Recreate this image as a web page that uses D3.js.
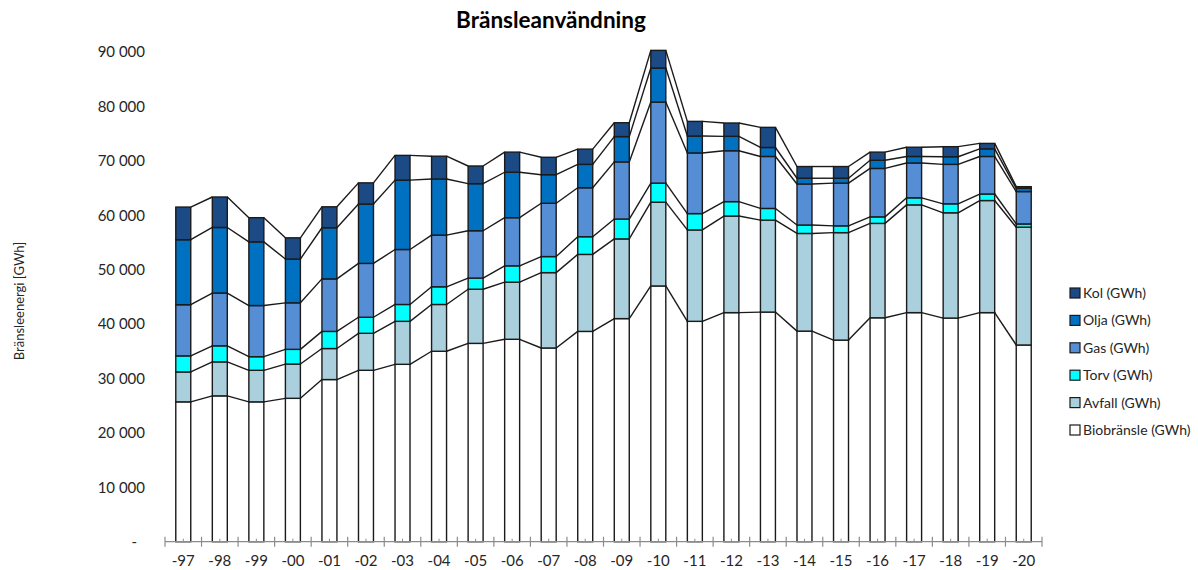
<!DOCTYPE html>
<html>

<head>
	<title>Bränsleanvändning</title>
	<meta charset="utf-8">
	<script src="https://d3js.org/d3.v7.min.js" charset="utf-8"></script>
	<style type="text/css">
		body {
			margin: 0;
			background: white;
		}

		svg text {
			font-family: Lato, 'Open Sans', sans-serif;
			fill: #262626;
		}
	</style>
</head>

<body>
	<script type="text/javascript">
		var w = 1198;
		var h = 570;

		// years on the x axis
		var years = ['-97', '-98', '-99', '-00', '-01', '-02', '-03', '-04', '-05', '-06', '-07', '-08',
			'-09', '-10', '-11', '-12', '-13', '-14', '-15', '-16', '-17', '-18', '-19', '-20'];

		// GWh per fuel
		var bio = [25700, 26800, 25700, 26350, 29800, 31500, 32600, 35000, 36450, 37200, 35600, 38650,
			41000, 47000, 40500, 42100, 42200, 38700, 37050, 41150, 42100, 41100, 42100, 36150];
		var avfall = [5500, 6250, 5800, 6300, 5700, 6800, 7900, 8600, 9950, 10500, 13850, 14150,
			14650, 15400, 16800, 17750, 16900, 17950, 19750, 17350, 19800, 19350, 20600, 21650];
		var torv = [2950, 2950, 2500, 2700, 3150, 2950, 3100, 3250, 2050, 3000, 2950, 3250,
			3650, 3500, 3000, 2650, 2150, 1550, 1250, 1200, 1300, 1650, 1200, 600];
		var gas = [9400, 9700, 9400, 8550, 9650, 9900, 10100, 9500, 8700, 8850, 9800, 9000,
			10500, 14900, 11150, 9350, 9550, 7550, 7850, 8900, 6400, 7250, 6900, 5950];
		var olja = [11950, 12050, 11700, 8050, 9400, 10900, 12750, 10300, 8650, 8350, 5250, 4300,
			4650, 6250, 3100, 2650, 1650, 1050, 900, 1500, 1200, 1400, 1400, 600];
		var kol = [6000, 5600, 4450, 3900, 3850, 3900, 4550, 4200, 3250, 3700, 3200, 2800,
			2550, 3250, 2700, 2450, 3700, 2150, 2150, 1500, 1700, 1850, 1000, 300];

		var seriesNames = ['Biobränsle (GWh)', 'Avfall (GWh)', 'Torv (GWh)', 'Gas (GWh)', 'Olja (GWh)', 'Kol (GWh)'];
		var seriesColors = ['#ffffff', '#abd0dd', '#00ffff', '#558ed5', '#0070c0', '#1b4a85'];
		var yTicks = [0, 10000, 20000, 30000, 40000, 50000, 60000, 70000, 80000, 90000];

		var table = years.map(function (y, i) {
			return { year: y, s0: bio[i], s1: avfall[i], s2: torv[i], s3: gas[i], s4: olja[i], s5: kol[i] };
		});
		var keys = ['s0', 's1', 's2', 's3', 's4', 's5'];
		var stacked = d3.stack().keys(keys)(table);

		var svg = d3.select('body')
			.append('svg')
			.attr('width', w)
			.attr('height', h);

		var x = d3.scaleBand()
			.domain(years)
			.range([165, 1042])
			.paddingInner(0.59)
			.paddingOuter(0.295);

		var y = d3.scaleLinear()
			.domain([0, 90000])
			.range([541.7, 52]);

		// title
		svg.append('text')
			.attr('x', 551)
			.attr('y', 28)
			.attr('text-anchor', 'middle')
			.style('font-size', '22.5px')
			.style('font-weight', 'bold')
			.style('fill', '#000')
			.text('Bränsleanvändning');

		// y axis label
		svg.append('text')
			.attr('transform', 'translate(24,301) rotate(-90)')
			.attr('text-anchor', 'middle')
			.style('font-size', '13px')
			.text('Bränsleenergi [GWh]');

		// y axis, labels only
		var fmt = function (d) {
			return d == 0 ? '-' : d3.format(',')(d).replace(/,/g, ' ');
		};
		var yAxis = svg.append('g')
			.attr('transform', 'translate(145,0)')
			.call(d3.axisLeft(y).tickValues(yTicks).tickSize(0).tickPadding(0).tickFormat(fmt));
		yAxis.select('.domain').remove();
		yAxis.selectAll('text')
			.style('font-size', '15px')
			.style('font-family', 'Lato, sans-serif')
			.attr('fill', '#262626')
			.attr('dx', function (d) { return d == 0 ? -8 : 0; });

		// bars
		var layers = svg.append('g')
			.selectAll('g')
			.data(stacked)
			.enter()
			.append('g')
			.attr('fill', function (d, i) { return seriesColors[i]; });

		layers.selectAll('rect')
			.data(function (d) { return d; })
			.enter()
			.append('rect')
			.attr('x', function (d) { return x(d.data.year); })
			.attr('y', function (d) { return y(d[1]); })
			.attr('width', x.bandwidth())
			.attr('height', function (d) { return y(d[0]) - y(d[1]); })
			.attr('stroke', '#1a1a1a')
			.attr('stroke-width', 1.4);

		// series lines between bars
		stacked.forEach(function (layer) {
			var segs = [];
			for (var i = 0; i < layer.length - 1; i++) {
				segs.push([layer[i], layer[i + 1]]);
			}
			svg.append('g')
				.selectAll('line')
				.data(segs)
				.enter()
				.append('line')
				.attr('x1', function (d) { return x(d[0].data.year) + x.bandwidth(); })
				.attr('y1', function (d) { return y(d[0][1]); })
				.attr('x2', function (d) { return x(d[1].data.year); })
				.attr('y2', function (d) { return y(d[1][1]); })
				.attr('stroke', '#1a1a1a')
				.attr('stroke-width', 1.4);
		});

		// x axis
		var xAxis = svg.append('g');
		xAxis.append('line')
			.attr('x1', 165)
			.attr('x2', 1042)
			.attr('y1', y(0))
			.attr('y2', y(0))
			.attr('stroke', '#8c8c8c')
			.attr('stroke-width', 1.2);
		var bounds = years.map(function (d) { return x(d) - x.step() * 0.295; });
		bounds.push(1042);
		xAxis.selectAll('line.major')
			.data(bounds)
			.enter()
			.append('line')
			.attr('class', 'major')
			.attr('x1', function (d) { return d; })
			.attr('x2', function (d) { return d; })
			.attr('y1', y(0) - 5)
			.attr('y2', y(0) + 5)
			.attr('stroke', '#8c8c8c')
			.attr('stroke-width', 1.2);
		xAxis.selectAll('line.minor')
			.data(years)
			.enter()
			.append('line')
			.attr('class', 'minor')
			.attr('x1', function (d) { return x(d) + x.bandwidth() / 2; })
			.attr('x2', function (d) { return x(d) + x.bandwidth() / 2; })
			.attr('y1', y(0) - 3)
			.attr('y2', y(0))
			.attr('stroke', '#8c8c8c')
			.attr('stroke-width', 1);
		xAxis.selectAll('text')
			.data(years)
			.enter()
			.append('text')
			.attr('x', function (d) { return x(d) + x.bandwidth() / 2; })
			.attr('y', 566)
			.attr('text-anchor', 'middle')
			.style('font-size', '15px')
			.text(function (d) { return d; });

		// legend, Kol on top
		var legendItems = seriesNames.map(function (n, i) { return { name: n, color: seriesColors[i] }; }).reverse();
		var legend = svg.append('g')
			.selectAll('g')
			.data(legendItems)
			.enter()
			.append('g')
			.attr('transform', function (d, i) { return 'translate(1070,' + (293 + i * 27.4) + ')'; });
		legend.append('rect')
			.attr('x', 0)
			.attr('y', -5)
			.attr('width', 10)
			.attr('height', 10)
			.attr('fill', function (d) { return d.color; })
			.attr('stroke', '#1a1a1a')
			.attr('stroke-width', 1.2);
		legend.append('text')
			.attr('x', 13)
			.attr('y', 5)
			.style('font-size', '14px')
			.text(function (d) { return d.name; });
	</script>
</body>

</html>
